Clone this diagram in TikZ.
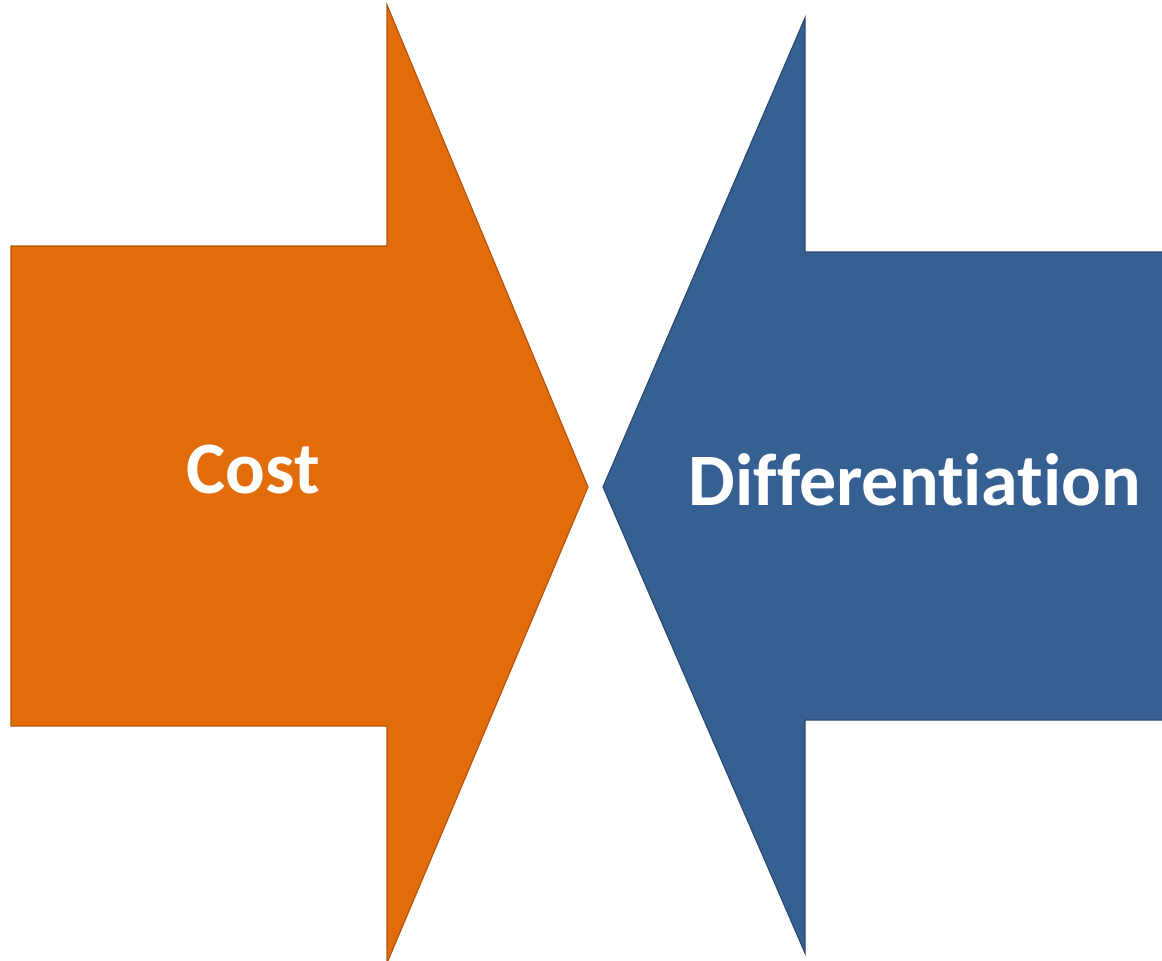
\documentclass[tikz,border=0pt]{standalone}
\usepackage{fontspec}
\setmainfont[Ligatures=NoCommon]{Carlito}
\definecolor{costorange}{HTML}{E26B0A}
\definecolor{costedge}{HTML}{B5560C}
\definecolor{diffblue}{HTML}{376092}
\definecolor{diffedge}{HTML}{2A4A72}
\begin{document}
\begin{tikzpicture}[x=1pt,y=-1pt,
  arrowshape/.style={line width=1.2pt,line join=miter},
  label/.style={text=white,font=\fontsize{74}{80}\selectfont\bfseries,inner sep=0pt,anchor=base}]
\useasboundingbox (0,0) rectangle (1162,961);
\fill[white] (0,0) rectangle (1162,961);
\filldraw[arrowshape,fill=costorange,draw=costedge]
  (11,246) -- (387,246) -- (387,5) -- (588,487) -- (387,963) -- (387,726) -- (11,726) -- cycle;
\filldraw[arrowshape,fill=diffblue,draw=diffedge]
  (1166,252) -- (805,252) -- (805,18) -- (603,487) -- (805,953) -- (805,720) -- (1166,720) -- cycle;
\node[label] (cost) at (253,493) {Cost};
\node[label] (diff) at (915,505) {Differentiation};
\end{tikzpicture}
\end{document}
